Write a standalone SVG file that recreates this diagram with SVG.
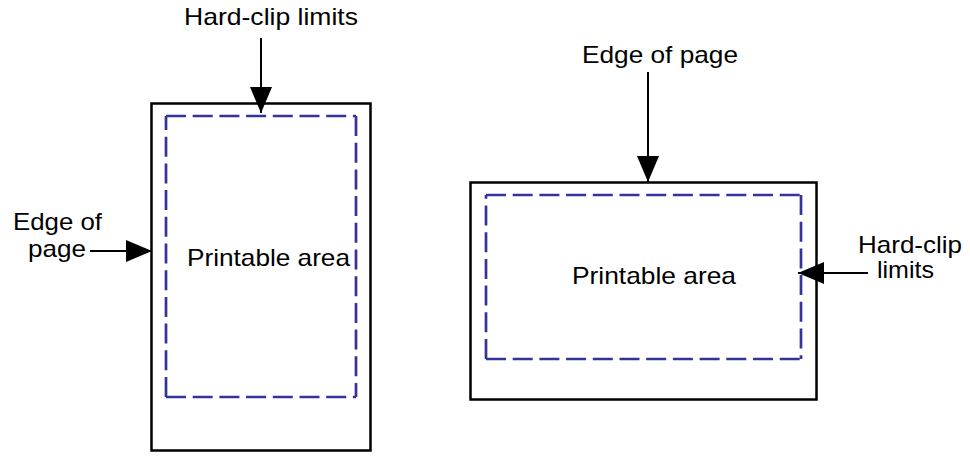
<svg xmlns="http://www.w3.org/2000/svg" width="970" height="461" viewBox="0 0 970 461">
<defs>
<style>
.page{fill:#fff;stroke:#000;stroke-width:2.5}
.clip{fill:none;stroke:#333399;stroke-width:2.7;stroke-dasharray:20 6.7}
.lbl{font-family:"Liberation Sans",Arial,sans-serif;font-size:24px;fill:#000}
.conn{stroke:#000;stroke-width:2;fill:none}
</style>
<marker id="ah" markerUnits="userSpaceOnUse" markerWidth="26" markerHeight="22" refX="26" refY="11" orient="auto">
<path d="M0,0 L26,11 L0,22 Z" fill="#000"/>
</marker>
</defs>
<g id="page-portrait">
<rect class="page" x="151.5" y="103.5" width="219" height="347"/>
<path class="clip" d="M166,116 H356"/>
<path class="clip" d="M356,116 V397"/>
<path class="clip" d="M166,397 H356"/>
<path class="clip" d="M166,397 V116"/>
<text class="lbl" x="187" y="266" textLength="163" lengthAdjust="spacingAndGlyphs">Printable area</text>
</g>
<g id="page-landscape">
<rect class="page" x="470.5" y="182.5" width="346" height="217"/>
<path class="clip" d="M486,195 H801"/>
<path class="clip" d="M801,195 V359"/>
<path class="clip" d="M486,359 H801"/>
<path class="clip" d="M486,359 V195"/>
<text class="lbl" x="572" y="284" textLength="164" lengthAdjust="spacingAndGlyphs">Printable area</text>
</g>
<g id="label-hardclip-left">
<text class="lbl" x="184" y="25" textLength="174" lengthAdjust="spacingAndGlyphs">Hard-clip limits</text>
</g>
<g id="label-edge-left">
<text class="lbl" x="13" y="230" textLength="89" lengthAdjust="spacingAndGlyphs">Edge of</text>
<text class="lbl" x="28" y="257" textLength="58" lengthAdjust="spacingAndGlyphs">page</text>
</g>
<g id="label-edge-right">
<text class="lbl" x="582" y="63" textLength="156" lengthAdjust="spacingAndGlyphs">Edge of page</text>
</g>
<g id="label-hardclip-right">
<text class="lbl" x="858" y="253" textLength="104" lengthAdjust="spacingAndGlyphs">Hard-clip</text>
<text class="lbl" x="877" y="278" textLength="57" lengthAdjust="spacingAndGlyphs">limits</text>
</g>
<g id="connectors">
<line class="conn" x1="261" y1="38" x2="261" y2="113" marker-end="url(#ah)"/>
<line class="conn" x1="90" y1="251" x2="152" y2="251" marker-end="url(#ah)"/>
<line class="conn" x1="648" y1="72" x2="648" y2="182" marker-end="url(#ah)"/>
<line class="conn" x1="868" y1="273" x2="798" y2="273" marker-end="url(#ah)"/>
</g>
</svg>
